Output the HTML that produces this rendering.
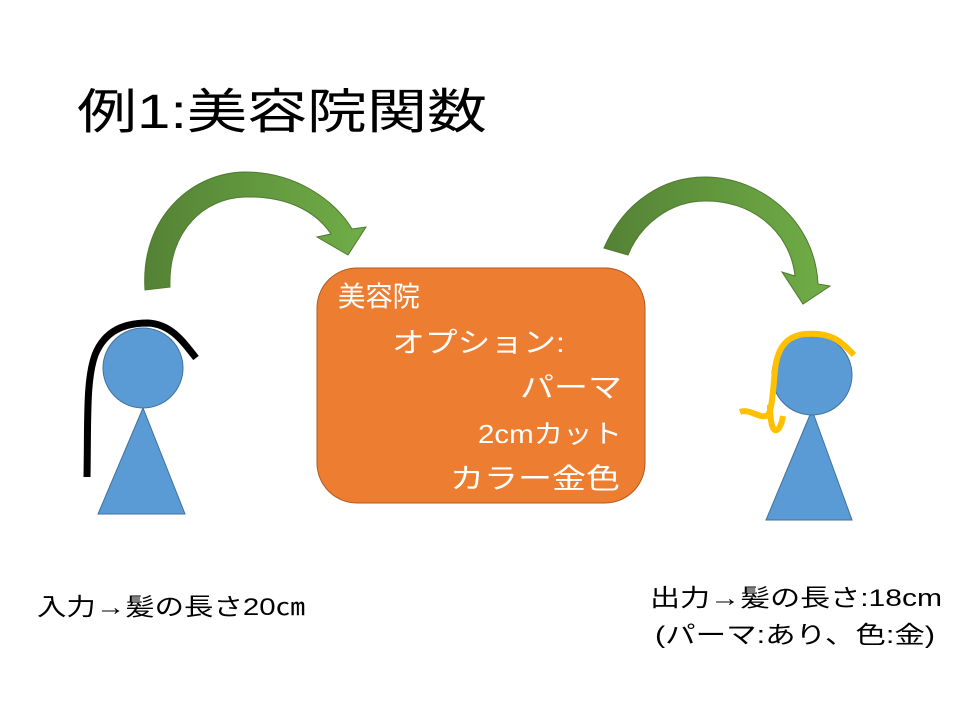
<!DOCTYPE html>
<html><head><meta charset="utf-8"><style>
body{margin:0;background:#fff}
svg{display:block}
text{font-family:"Liberation Sans","Noto Sans CJK JP",sans-serif}
</style></head><body>
<svg width="960" height="720" viewBox="0 0 960 720" xmlns="http://www.w3.org/2000/svg">
<defs>
<linearGradient id="g" x1="0" y1="0" x2="1" y2="0">
<stop offset="0" stop-color="#548235"/><stop offset="1" stop-color="#70AD47"/>
</linearGradient>
</defs>
<text x="77" y="128" font-size="48" fill="#000" textLength="410" lengthAdjust="spacingAndGlyphs">例1:美容院関数</text>
<path d="M145,290 C140,215 195,172 245,172 C295,172 335,200 352,229 L366,227 L348,255 L317,237 L331,234 C315,210 285,196 245,197 C205,198 168,230 170,287 Z" fill="url(#g)" stroke="#4E7A2E" stroke-width="1"/>
<path d="M604,248 C625,200 665,177 705,177 C760,177 815,220 818,284 L830,286 L803,304 L782,272 L795,276 C790,230 750,200 705,201 C670,201 640,225 628,255 Z" fill="url(#g)" stroke="#4E7A2E" stroke-width="1"/>
<rect x="317" y="268" width="328" height="235" rx="40" fill="#ED7D31" stroke="#AE5A21" stroke-width="1"/>
<g fill="#fff" font-size="28">
<text x="338" y="306" textLength="82" lengthAdjust="spacingAndGlyphs">美容院</text>
<text x="392" y="352" textLength="173" lengthAdjust="spacingAndGlyphs">オプション:</text>
<text x="520" y="397" textLength="102" lengthAdjust="spacingAndGlyphs">パーマ</text>
<text x="478" y="443" font-size="26" textLength="144" lengthAdjust="spacingAndGlyphs">2cmカット</text>
<text x="450" y="488" textLength="170" lengthAdjust="spacingAndGlyphs">カラー金色</text>
</g>
<!-- left figure -->
<polygon points="143,408 98,514 185,514" fill="#5B9BD5" stroke="#41719C" stroke-width="1"/>
<circle cx="143" cy="368" r="40" fill="#5B9BD5" stroke="#41719C" stroke-width="1"/>
<path d="M87,477 C88,420 86,380 95,355 C105,330 125,323 148,323 C170,324 182,340 196,358" fill="none" stroke="#000" stroke-width="7"/>
<!-- right figure -->
<polygon points="812,410 766,520 852,520" fill="#5B9BD5" stroke="#41719C" stroke-width="1"/>
<circle cx="812" cy="375" r="40" fill="#5B9BD5" stroke="#41719C" stroke-width="1"/>
<path d="M854,355 C840,340 830,332 805,334 C785,336 777,350 775,370 C773,390 772,410 768,415 C760,420 750,408 740,412" fill="none" stroke="#FFC000" stroke-width="6"/>
<path d="M770,405 C770,420 772,432 777,430 C780,428 782,422 783,416" fill="none" stroke="#FFC000" stroke-width="6"/>
<g font-size="24" fill="#000">
<text x="37" y="615" textLength="268" lengthAdjust="spacingAndGlyphs">入力→髪の長さ20㎝</text>
<text x="650" y="606" textLength="292" lengthAdjust="spacingAndGlyphs">出力→髪の長さ:18cm</text>
<text x="655" y="643" textLength="280" lengthAdjust="spacingAndGlyphs">(パーマ:あり、色:金)</text>
</g>
</svg>
</body></html>
